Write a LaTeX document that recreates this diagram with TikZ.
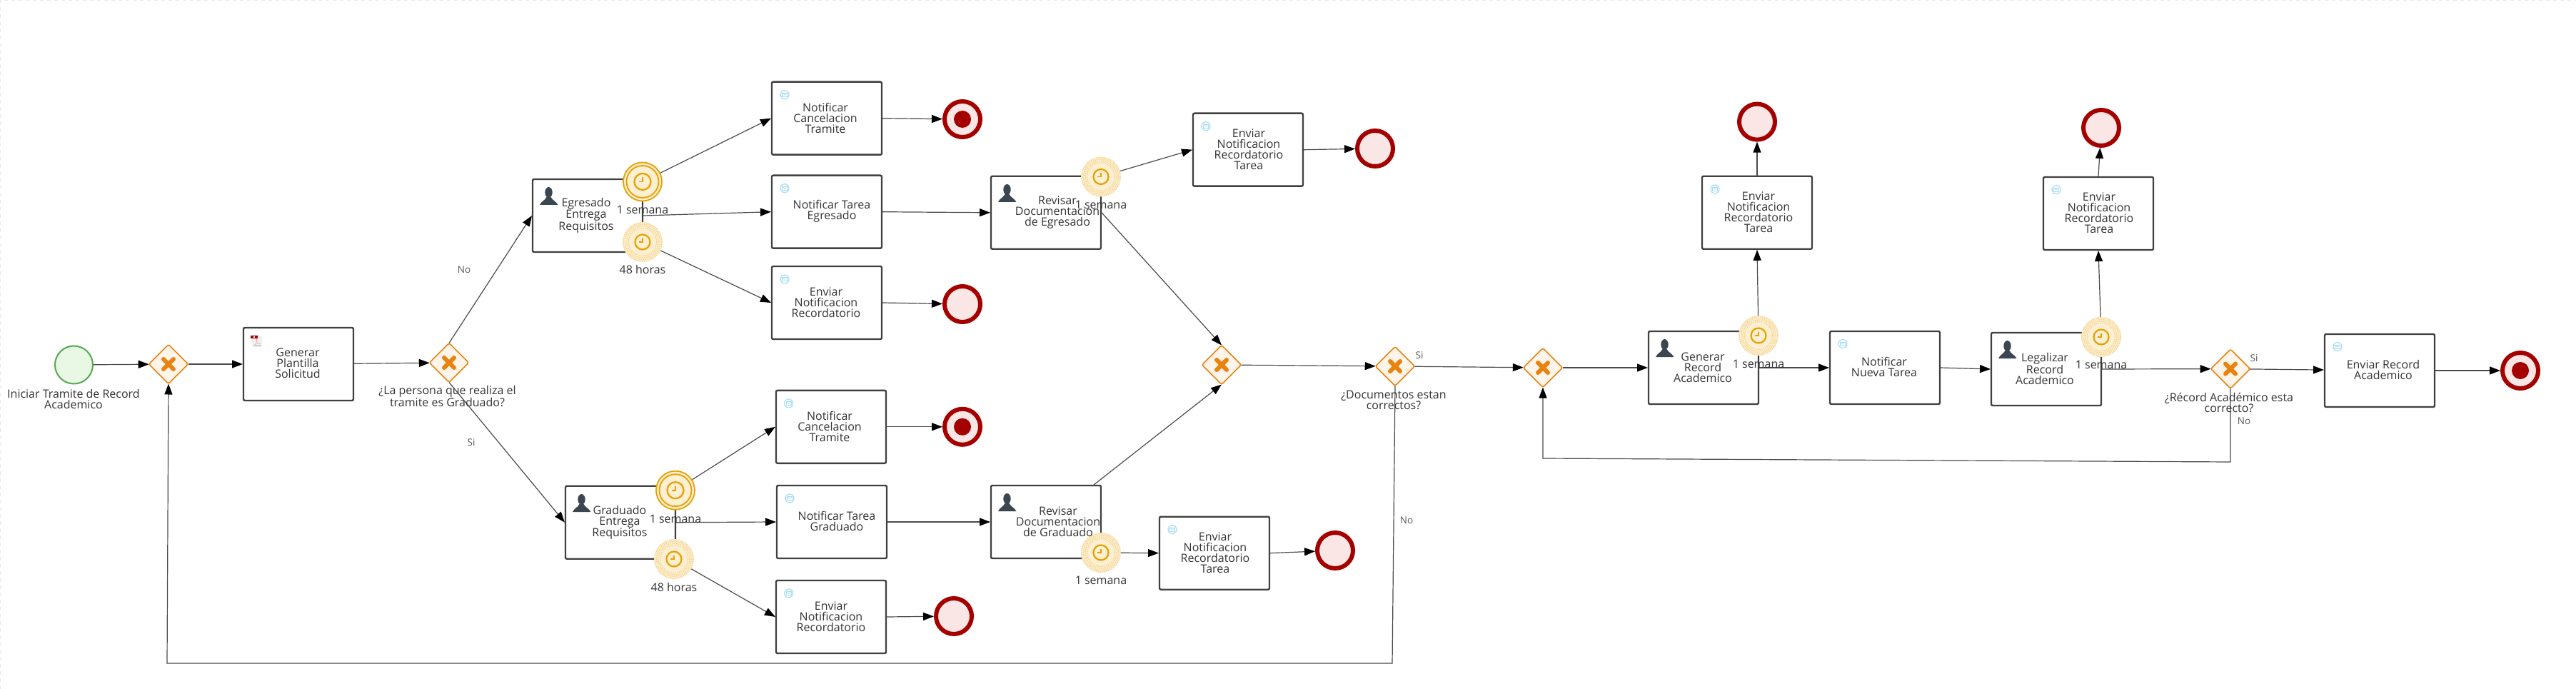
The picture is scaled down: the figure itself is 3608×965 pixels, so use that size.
\documentclass[tikz,border=0pt]{standalone}
\usepackage{fontspec}
\setmainfont{Open Sans}
\usetikzlibrary{arrows.meta,shapes.geometric,calc}
\definecolor{boxc}{HTML}{404040}
\definecolor{gwc}{HTML}{E8830F}
\definecolor{gwf}{HTML}{FEF4EA}
\definecolor{tmc}{HTML}{E8A000}
\definecolor{tmf}{HTML}{FCEFD2}
\definecolor{tmd}{HTML}{F6D083}
\definecolor{endc}{HTML}{A50000}
\definecolor{endf}{HTML}{FBE6E6}
\definecolor{stc}{HTML}{55A84E}
\definecolor{stf}{HTML}{E9F7E5}
\definecolor{usr}{HTML}{3C4650}
\definecolor{env}{HTML}{A6DDF5}
\definecolor{flowc}{HTML}{4A4A4A}
\definecolor{edgec}{HTML}{E8E8E8}
\tikzset{
  x=1pt,y=-1pt,
  taskbox/.style={draw=boxc,fill=white,line width=2.4pt,rounded corners=2pt,minimum width=154pt,minimum height=102pt,inner sep=0pt,outer sep=1pt},
  lbl/.style={font=\fontsize{16}{15}\selectfont,text=black!80,align=center,inner sep=0pt},
  seq/.style={font=\fontsize{13.5}{15}\selectfont,text=black!65,inner sep=0pt},
  flow/.style={draw=flowc,line width=1.2pt,-{Triangle[length=15pt,width=11pt,color=black]}},
  xmark/.style={draw=gwc,line width=6pt,line cap=round},
  gate/.style={shape=diamond,aspect=1,draw=gwc,fill=gwf,line width=1.6pt,rounded corners=2.5pt,minimum width=55pt,minimum height=55pt,inner sep=0pt,outer sep=0pt,
    path picture={\draw[xmark,sharp corners] ($(path picture bounding box.center)+(-7,-7)$) -- +(14,14);
                  \draw[xmark,sharp corners] ($(path picture bounding box.center)+(-7,7)$) -- +(14,-14);}},
  startev/.style={shape=circle,draw=stc,fill=stf,line width=2pt,minimum size=53pt,inner sep=0pt,outer sep=1pt},
  endev/.style={shape=circle,draw=endc,fill=endf,line width=6pt,minimum size=50pt,inner sep=0pt,outer sep=3pt},
  termev/.style={endev,path picture={\fill[endc] (path picture bounding box.center) circle (12);}},
  timerdot/.style={shape=circle,fill=tmf,minimum size=56pt,inner sep=0pt,outer sep=0pt,
    path picture={
      \coordinate (cc) at (path picture bounding box.center);
      \draw[tmd,line width=1.2pt,dash pattern=on 1.4pt off 1.4pt] (cc) circle (27);
      \draw[tmd,line width=1.2pt,dash pattern=on 1.4pt off 1.4pt] (cc) circle (24.5);
      \draw[tmd,line width=1.2pt,dash pattern=on 1.4pt off 1.4pt] (cc) circle (22);
      \draw[tmd,line width=1.2pt,dash pattern=on 1.4pt off 1.4pt] (cc) circle (19.5);
      \draw[tmc,line width=2.2pt] (cc) circle (10.5);
      \draw[tmc,line width=1.6pt] ($(cc)+(0,-5.5)$) -- (cc) -- ($(cc)+(-5,0)$);
    }},
  timerdbl/.style={shape=circle,fill=tmf,draw=tmc,line width=1.8pt,minimum size=54pt,inner sep=0pt,outer sep=1pt,
    path picture={
      \coordinate (cc) at (path picture bounding box.center);
      \draw[tmc,line width=1.8pt] (cc) circle (22.5);
      \draw[tmc,line width=2.2pt] (cc) circle (11.5);
      \draw[tmc,line width=1.6pt] ($(cc)+(0,-6)$) -- (cc) -- ($(cc)+(-5.5,0)$);
    }},
}
% x y of top left corner of the 25x25 figure
\newcommand{\usericon}[2]{%
  \begin{scope}[shift={(#1,#2)}]
    \fill[usr] (12.5,7.5) ellipse (5.2 and 7.5);
    \fill[usr] (0,25) .. controls (2,20) and (7,19) .. (9.5,14) -- (15.5,14) .. controls (18,19) and (23,20) .. (25.5,25) -- cycle;
  \end{scope}}
\newcommand{\envicon}[2]{%
  \begin{scope}[shift={(#1,#2)}]
    \draw[env,line width=1.2pt,fill=white] (0,0) circle (6);
    \draw[env,line width=.8pt] (-3.4,-2.6) rectangle (3.4,2.6);
    \draw[env,line width=.7pt] (-3.4,-2.6) -- (0,.4) -- (3.4,-2.6);
  \end{scope}}
\newcommand{\pdficon}[2]{%
  \begin{scope}[shift={(#1,#2)}]
    \fill[black!6] (2,0) -- (12,0) -- (16,4) -- (16,16) -- (2,16) -- cycle;
    \fill[red!65!black] (0,1) rectangle (10,4.5);
    \fill[white] (3.5,2) rectangle (6,3.5);
    \draw[red!80!black,line width=.5pt,densely dotted] (8,5) -- (9,11) -- (6,14);
    \draw[red!80!black,line width=.5pt,densely dotted] (9,11) -- (14,13);
    \fill[black!40] (4,14.5) rectangle (15,16);
  \end{scope}}
\begin{document}
\begin{tikzpicture}
\useasboundingbox (0,0) rectangle (3608,965);
\fill[white] (0,0) rectangle (3608,965);
\draw[edgec,line width=1pt,dash pattern=on 5pt off 5pt] (.5,965) -- (.5,.5) -- (3608,.5);

% tasks
\node[taskbox] (plantilla) at (418,510) {};
\node[taskbox] (egr) at (823,302) {};
\node[taskbox] (cancelA) at (1158,165.7) {};
\node[taskbox] (tareaE) at (1158,296.7) {};
\node[taskbox] (recA) at (1158,424) {};
\node[taskbox] (revE) at (1465,297.8) {};
\node[taskbox] (notTE) at (1748,209.7) {};
\node[taskbox] (grad) at (869,731.7) {};
\node[taskbox] (cancelB) at (1164,597.8) {};
\node[taskbox] (tareaG) at (1165,731) {};
\node[taskbox] (recB) at (1164,864) {};
\node[taskbox] (revG) at (1465,731) {};
\node[taskbox] (notTG) at (1701,774.7) {};
\node[taskbox] (genR) at (2386,515) {};
\node[taskbox] (notT1) at (2461,297.8) {};
\node[taskbox] (nueva) at (2640,515) {};
\node[taskbox] (legR) at (2866,517) {};
\node[taskbox] (notT2) at (2939,299) {};
\node[taskbox] (envR) at (3333,519) {};

% gateways
\node[gate] (gw1) at (236,510) {};
\node[gate] (gw2) at (629,508) {};
\node[gate] (gwM) at (1711,511) {};
\node[gate] (gwD) at (1954,513) {};
\node[gate] (gw3) at (2161,515) {};
\node[gate] (gwR) at (3124,516.6) {};

% events
\node[startev] (start) at (103.5,511) {};
\node[termev] (endA) at (1348,167) {};
\node[endev] (endB) at (1348,426) {};
\node[endev] (endC) at (1926,208) {};
\node[termev] (endD) at (1348,597.8) {};
\node[endev] (endE) at (1336,863) {};
\node[endev] (endF) at (1870,771) {};
\node[endev] (endG) at (2461,170.6) {};
\node[endev] (endH) at (2943,179) {};
\node[termev] (endI) at (3530,519) {};

\node[timerdbl] (evEa) at (900,254.5) {};
\node[timerdot] (evEb) at (900,339) {};
\node[timerdbl] (evGa) at (946,686.7) {};
\node[timerdot] (evGb) at (944,783) {};
\node[timerdot] (evRE) at (1542,247.5) {};
\node[timerdot] (evRG) at (1542,774) {};
\node[timerdot] (evGR) at (2463,470) {};
\node[timerdot] (evLR) at (2943,472) {};

% free points of the long loops
\coordinate (loopA) at (1950,929);
\coordinate (loopB) at (234,929);
\coordinate (loopC) at (3124,647);
\coordinate (loopD) at (2161,642);

% connectors
\draw[flow] (start) -- (gw1);
\draw[flow] (gw1) -- (plantilla);
\draw[flow] (plantilla) -- (gw2);
\draw[flow] (gw2.north) -- (egr.west);
\draw[flow] (gw2.south) -- (grad.west);
\draw[flow] (evEa) -- (cancelA.west);
\draw[flow] (egr.east) -- (tareaE.west);
\draw[flow] (evEb) -- (recA.west);
\draw[flow] (cancelA.east) -- (endA);
\draw[flow] (recA.east) -- (endB);
\draw[flow] (tareaE.east) -- (revE.west);
\draw[flow] (evRE) -- (notTE.west);
\draw[flow] (notTE.east) -- (endC);
\draw[flow] (revE.east) -- (gwM.north);
\draw[flow] (evGa) -- (cancelB.west);
\draw[flow] (grad.east) -- (tareaG.west);
\draw[flow] (evGb) -- (recB.west);
\draw[flow] (cancelB.east) -- (endD);
\draw[flow] (recB.east) -- (endE);
\draw[flow] (tareaG.east) -- (revG.west);
\draw[flow] (revG.north east) ++(-11,0) -- (gwM.south);
\draw[flow] (evRG) -- (notTG.west);
\draw[flow] (notTG.east) -- (endF);
\draw[flow] (gwM) -- (gwD);
\draw[flow] (gwD) -- (gw3);
\draw[flow] (gwD.south) -- (loopA) -- (loopB) -- (gw1.south);
\draw[flow] (gw3) -- (genR);
\draw[flow] (genR.east) -- (nueva.west);
\draw[flow] (evGR) -- (notT1.south);
\draw[flow] (notT1.north) -- (endG);
\draw[flow] (nueva.east) -- (legR.west);
\draw[flow] (evLR) -- (notT2.south);
\draw[flow] (notT2.north) -- (endH);
\draw[flow] (legR.east) -- (gwR);
\draw[flow] (gwR.south) -- (loopC) -- (loopD) -- (gw3.south);
\draw[flow] (gwR) -- (envR);
\draw[flow] (envR) -- (endI);

% icons
\pdficon{351}{469}
\usericon{756}{262}
\usericon{802}{692}
\usericon{1398}{258}
\usericon{1398}{691}
\usericon{2319}{475}
\usericon{2799}{477}
\envicon{1099}{132.7}
\envicon{1099}{263.7}
\envicon{1099}{391}
\envicon{1104.6}{565}
\envicon{1106}{698}
\envicon{1104.6}{831}
\envicon{1689}{176.7}
\envicon{1642}{741.7}
\envicon{2402}{265}
\envicon{2581}{481.6}
\envicon{2880}{265.7}
\envicon{3274}{485.7}

% task texts
\node[lbl] (tPlantilla) at (417,509) {Generar\\Plantilla\\Solicitud};
\node[lbl] (tEgr) at (821,302) {Egresado\\Entrega\\Requisitos};
\node[lbl] (tCancelA) at (1156,165.3) {Notificar\\Cancelacion\\Tramite};
\node[lbl] (tTareaE) at (1165,295.8) {Notificar Tarea\\Egresado};
\node[lbl] (tRecA) at (1157,423.3) {Enviar\\Notificacion\\Recordatorio};
\node[lbl] (tRevE) at (1481,297.3) {Revisar\\Documentacion\\de Egresado};
\node[lbl] (tNotTE) at (1749,208.8) {Enviar\\Notificacion\\Recordatorio\\Tarea};
\node[lbl] (tGrad) at (868,731.7) {Graduado\\Entrega\\Requisitos};
\node[lbl] (tCancelB) at (1162,597.3) {Notificar\\Cancelacion\\Tramite};
\node[lbl] (tTareaG) at (1172,729.8) {Notificar Tarea\\Graduado};
\node[lbl] (tRecB) at (1164,863.3) {Enviar\\Notificacion\\Recordatorio};
\node[lbl] (tRevG) at (1482,730.3) {Revisar\\Documentacion\\de Graduado};
\node[lbl] (tNotTG) at (1702,773.8) {Enviar\\Notificacion\\Recordatorio\\Tarea};
\node[lbl] (tGenR) at (2385,514.6) {Generar\\Record\\Academico};
\node[lbl] (tNotT1) at (2463,296.9) {Enviar\\Notificacion\\Recordatorio\\Tarea};
\node[lbl] (tNueva) at (2639,514) {Notificar\\Nueva Tarea};
\node[lbl] (tLegR) at (2864,516.4) {Legalizar\\Record\\Academico};
\node[lbl] (tNotT2) at (2940,297.9) {Enviar\\Notificacion\\Recordatorio\\Tarea};
\node[lbl] (tEnvR) at (3338,518) {Enviar Record\\Academico};

% external labels
\node[lbl] (lStart) at (103,558.5) {Iniciar Tramite de Record\\Academico};
\node[lbl] (lGw2) at (626.5,555.5) {¿La persona que realiza el\\tramite es Graduado?};
\node[lbl] (lGwD) at (1952,560.2) {¿Documentos estan\\correctos?};
\node[lbl] (lGwR) at (3122,563.9) {¿Récord Académico esta\\correcto?};
\node[lbl] (lEa) at (900,294) {1 semana};
\node[lbl] (lEb) at (900,378) {48 horas};
\node[lbl] (lGa) at (946,726.7) {1 semana};
\node[lbl] (lGb) at (944,822) {48 horas};
\node[lbl] (lRE) at (1542,287) {1 semana};
\node[lbl] (lRG) at (1542,813) {1 semana};
\node[lbl] (lGR) at (2463,509.5) {1 semana};
\node[lbl] (lLR) at (2943,511) {1 semana};

% flow labels
\node[seq] (sNo1) at (650,378) {No};
\node[seq] (sSi1) at (660,620) {Si};
\node[seq] (sSi2) at (1988,497.7) {Si};
\node[seq] (sNo2) at (1970,728.7) {No};
\node[seq] (sSi3) at (3157,502) {Si};
\node[seq] (sNo3) at (3143,589.7) {No};
\end{tikzpicture}
\end{document}
